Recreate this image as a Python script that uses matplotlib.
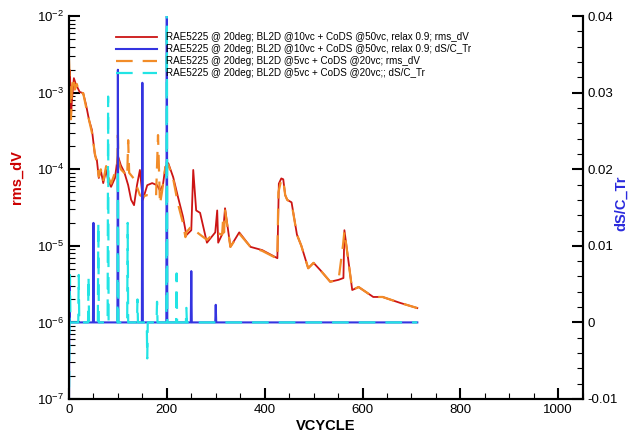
import numpy as np
import matplotlib
matplotlib.use("Agg")
import matplotlib.pyplot as plt
from matplotlib.ticker import LogLocator, MultipleLocator, FuncFormatter

plt.rcParams['font.family'] = ['Liberation Sans', 'DejaVu Sans']
plt.rcParams['mathtext.default'] = 'regular'

# run 1: BL2D @10vc + CoDS @50vc, relax 0.9 -- rms_dV
red_x = [0, 2, 4, 6, 10, 14, 22, 29, 35, 41, 47, 53, 57, 61, 65, 70, 76, 80, 86, 94,
         100, 106, 113, 121, 127, 133, 139, 145, 151, 160, 170, 180, 186, 192, 197, 203,
         213, 223, 233, 240, 250, 254, 260, 268, 282, 299, 303, 305, 315, 319, 330, 348,
         371, 395, 426, 429, 434, 438, 442, 446, 455, 466, 475, 489, 500, 514, 534, 551,
         561, 563, 579, 592, 622, 641, 678, 712]
red_v = [1.46e-3, 1.97e-3, 4.7e-4, 8.0e-4, 1.55e-3, 1.29e-3, 1.02e-3, 9.9e-4, 6.9e-4, 4.4e-4,
         3.25e-4, 1.53e-4, 1.32e-4, 7.7e-5, 9.8e-5, 6.6e-5, 9.8e-5, 7.2e-5, 5.9e-5, 7.7e-5,
         1.5e-4, 1.13e-4, 9.2e-5, 6.2e-5, 4.0e-5, 3.4e-5, 6.2e-5, 9.8e-5, 4.0e-5, 6.2e-5,
         6.6e-5, 6.2e-5, 5.3e-5, 6.2e-5, 1.07e-4, 1.2e-4, 7.9e-5, 4.3e-5, 2.4e-5, 1.38e-5,
         1.6e-5, 9.8e-5, 2.9e-5, 2.7e-5, 1.1e-5, 1.5e-5, 2.9e-5, 1.1e-5, 1.5e-5, 3.1e-5,
         9.7e-6, 1.5e-5, 9.7e-6, 8.8e-6, 6.9e-6, 6.5e-5, 7.6e-5, 7.4e-5, 4.6e-5, 4.0e-5,
         3.7e-5, 1.4e-5, 1.0e-5, 5.1e-6, 6.0e-6, 4.8e-6, 3.4e-6, 3.6e-6, 3.8e-6, 1.6e-5,
         2.65e-6, 2.9e-6, 2.15e-6, 2.15e-6, 1.79e-6, 1.54e-6]

# run 2: BL2D @5vc + CoDS @20vc -- rms_dV
orange_x = [0, 2, 4, 6, 9, 12, 16, 22, 29, 35, 41, 47, 53, 57, 61, 65, 70, 76, 80, 86, 94,
            99, 100, 101, 106, 113, 119, 121, 123, 133, 145, 150, 160, 170, 178, 182, 186,
            190, 197, 203, 213, 223, 233, 238, 240, 250, 262, 268, 282, 299, 313, 315, 317,
            319, 330, 348, 371, 395, 426, 428, 434, 438, 442, 446, 455, 466, 475, 489, 500,
            514, 534, 551, 560, 563, 579, 592, 622, 641, 678, 712]
orange_v = [2.7e-3, 1.2e-3, 4.5e-4, 1.2e-3, 1.6e-3, 1.1e-3, 1.3e-3, 9.5e-4, 9.9e-4, 6.5e-4,
            4.4e-4, 3.0e-4, 1.6e-4, 1.2e-4, 8.0e-5, 1.0e-4, 7.0e-5, 1.1e-4, 8.0e-5, 6.5e-5,
            9.0e-5, 1.2e-4, 2.8e-4, 1.3e-4, 1.0e-4, 9.0e-5, 8.0e-5, 2.4e-4, 9.0e-5, 7.5e-5,
            4.6e-5, 4.4e-5, 4.6e-5, 4.6e-5, 4.4e-5, 2.8e-4, 3.5e-5, 5.0e-5, 1.07e-4, 1.15e-4,
            7.5e-5, 3.5e-5, 2.0e-5, 1.3e-5, 1.5e-5, 1.8e-5, 1.5e-5, 1.4e-5, 1.2e-5, 1.5e-5,
            1.4e-5, 2.2e-5, 1.5e-5, 2.9e-5, 9.7e-6, 1.45e-5, 9.7e-6, 8.6e-6, 6.8e-6, 5.0e-5,
            7.3e-5, 7.2e-5, 4.6e-5, 4.0e-5, 3.6e-5, 1.4e-5, 1.0e-5, 5.1e-6, 6.0e-6, 4.8e-6,
            3.4e-6, 3.6e-6, 1.0e-5, 1.55e-5, 2.65e-6, 2.9e-6, 2.15e-6, 2.15e-6, 1.79e-6, 1.54e-6]

# dS/C_Tr: zero except at these cycles
last_cycle = 712
blue_spike_x = [0, 1, 50, 100, 150, 200, 250, 300]
blue_spike_v = [-0.012, 0.0058, 0.013, 0.033, 0.0313, 0.045, 0.0067, 0.0023]
cyan_spike_x = [0, 2, 20, 40, 60, 80, 100, 120, 140, 160, 180, 200, 220, 240]
cyan_spike_v = [-0.012, 0.0062, 0.0062, 0.006, 0.013, 0.0295, 0.02, 0.013, 0.003,
                -0.0047, 0.0027, 0.045, 0.0064, 0.0019]

labels = ["RAE5225 @ 20deg; BL2D @10vc + CoDS @50vc, relax 0.9; rms_dV",
          "RAE5225 @ 20deg; BL2D @10vc + CoDS @50vc, relax 0.9; dS/C_Tr",
          "RAE5225 @ 20deg; BL2D @5vc + CoDS @20vc; rms_dV",
          "RAE5225 @ 20deg; BL2D @5vc + CoDS @20vc;; dS/C_Tr"]

cyc = np.arange(last_cycle + 1)
blue_v = np.zeros(len(cyc))
blue_v[blue_spike_x] = blue_spike_v
cyan_v = np.zeros(len(cyc))
cyan_v[cyan_spike_x] = cyan_spike_v

fig = plt.figure(figsize=(6.34, 4.37), dpi=100)
ax = fig.add_axes([0.1088, 0.087, 0.8102, 0.876])
ax2 = ax.twinx()

l1, = ax.plot(red_x, red_v, color='#cc1414', lw=1.3)
l3, = ax.plot(orange_x, orange_v, color='#f28c28', lw=1.6, ls=(0, (7.5, 4.5)))
l2, = ax2.plot(cyc, blue_v, color='#3434e0', lw=1.5)
l4, = ax2.plot(cyc, cyan_v, color='#22e4e4', lw=1.6, ls=(0, (7.5, 4.5)))

ax.set_yscale('log')
ax.set_ylim(1e-7, 1e-2)
ax.set_xlim(0, 1050)
ax2.set_ylim(-0.01, 0.04)

ax.xaxis.set_major_locator(MultipleLocator(200))
ax.xaxis.set_minor_locator(MultipleLocator(50))
ax.yaxis.set_major_locator(LogLocator(base=10, numticks=10))
ax.yaxis.set_minor_locator(LogLocator(base=10, subs=np.arange(2, 10), numticks=10))
ax2.yaxis.set_major_locator(MultipleLocator(0.01))
ax2.yaxis.set_minor_locator(MultipleLocator(0.002))
ax2.yaxis.set_major_formatter(FuncFormatter(lambda v, p: '%g' % round(v, 4)))

for a in (ax, ax2):
    a.spines['top'].set_visible(False)
    for s in a.spines.values():
        s.set_linewidth(1.5)
    a.tick_params(which='major', direction='in', length=8, width=1.5, labelsize=9.5)
    a.tick_params(which='minor', direction='in', length=4.5, width=0.8)
ax.tick_params(axis='y', which='both', right=False)
ax2.tick_params(axis='y', which='both', left=False)

ax.set_xlabel('VCYCLE', fontsize=10.5, fontweight='bold', labelpad=2)
ax.set_ylabel('rms_dV', fontsize=10.5, fontweight='bold', color='#cc0000')
ax.yaxis.set_label_coords(-0.088, 0.58)
ax2.set_ylabel('dS/C_Tr', fontsize=10.5, fontweight='bold', color='#2b2bdd', rotation=90)
ax2.yaxis.set_label_coords(1.062, 0.51)

ax2.legend([l1, l2, l3, l4], labels, loc='upper left', bbox_to_anchor=(0.0915, 0.958),
           frameon=False, fontsize=7.1, handlelength=4.2, handletextpad=0.9,
           labelspacing=0.2, borderpad=0, borderaxespad=0)

fig.savefig('out.png', dpi=100)
